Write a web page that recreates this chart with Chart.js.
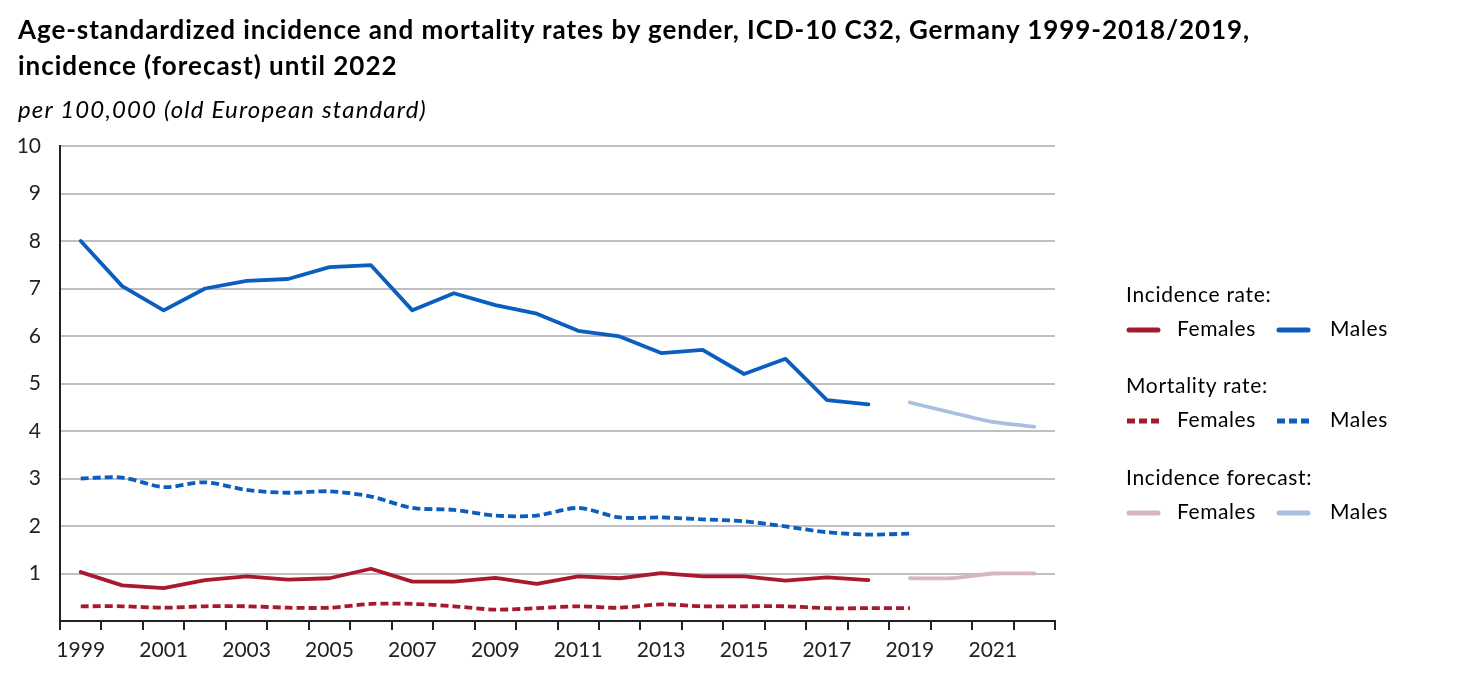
<!DOCTYPE html>
<html>
<head>
<meta charset="utf-8">
<script src="https://cdn.jsdelivr.net/npm/chart.js@4.4.1/dist/chart.umd.min.js"></script>
<style>
  html, body { margin: 0; padding: 0; background: #fff; }
  #wrap { position: relative; width: 1472px; height: 679px; overflow: hidden; font-family: Lato, "Liberation Sans", sans-serif; color: #000; }
  #title { position: absolute; left: 18px; top: 11px; font-weight: bold; font-size: 26px; line-height: 36px; margin: 0; white-space: nowrap; }
  #subtitle { position: absolute; left: 18px; top: 93px; font-style: italic; font-size: 24px; line-height: 32px; white-space: nowrap; }
  #chartBox { position: absolute; left: 0; top: 0; width: 1472px; height: 679px; }
  #legend { position: absolute; left: 1126px; top: 281px; font-size: 21px; }
  .lg-head { position: absolute; left: 0; white-space: nowrap; }
  .lg-item { position: absolute; white-space: nowrap; }
  .lg-item svg { position: absolute; top: 0; }
  .fit { display: inline-block; }
</style>
</head>
<body>
<div id="wrap">
  <div id="chartBox"><canvas id="c" width="1472" height="679"></canvas></div>
  <div id="title"><span class="fit" data-w="1232">Age-standardized incidence and mortality rates by gender, ICD-10 C32, Germany 1999-2018/2019,</span><br><span class="fit" data-w="380">incidence (forecast) until 2022</span></div>
  <div id="subtitle"><span class="fit" data-w="409">per 100,000 (old European standard)</span></div>
  <div id="legend"></div>
</div>
<script>
// ---- data ----
const years = ['1999','2000','2001','2002','2003','2004','2005','2006','2007','2008','2009','2010','2011','2012','2013','2014','2015','2016','2017','2018','2019','2020','2021','2022'];
const incidenceFemales = [1.03,0.75,0.69,0.86,0.94,0.87,0.90,1.10,0.83,0.83,0.91,0.78,0.94,0.90,1.01,0.94,0.94,0.85,0.92,0.86,null,null,null,null];
const incidenceMales   = [8.00,7.05,6.54,7.00,7.16,7.20,7.45,7.49,6.54,6.90,6.65,6.47,6.11,5.99,5.64,5.71,5.20,5.52,4.65,4.56,null,null,null,null];
const mortalityFemales = [0.31,0.31,0.28,0.31,0.31,0.28,0.28,0.36,0.36,0.31,0.24,0.27,0.31,0.28,0.35,0.31,0.31,0.31,0.27,0.27,0.27,null,null,null];
const mortalityMales   = [3.00,3.02,2.82,2.92,2.76,2.70,2.73,2.62,2.38,2.34,2.22,2.22,2.38,2.18,2.18,2.14,2.10,1.99,1.87,1.82,1.84,null,null,null];
const forecastFemales  = [null,null,null,null,null,null,null,null,null,null,null,null,null,null,null,null,null,null,null,null,0.90,0.90,1.00,1.00];
const forecastMales    = [null,null,null,null,null,null,null,null,null,null,null,null,null,null,null,null,null,null,null,null,4.60,4.39,4.19,4.09];
const yTicks = [0,1,2,3,4,5,6,7,8,9,10];
const legendGroups = ['Incidence rate:', 'Mortality rate:', 'Incidence forecast:'];

// ---- styles ----
const RED = '#A8192E', BLUE = '#0B5EC0', RED_F = '#D8B6BD', BLUE_F = '#A9BFDF';
const DASH = [8, 4];

const datasets = [
  { label: 'Females', group: 0, data: incidenceFemales, borderColor: RED, borderWidth: 3.8, tension: 0 },
  { label: 'Males', group: 0, data: incidenceMales, borderColor: BLUE, borderWidth: 3.8, tension: 0 },
  { label: 'Females', group: 1, data: mortalityFemales, borderColor: RED, borderWidth: 3.8, borderDash: DASH, borderCapStyle: 'butt', tension: 0.3 },
  { label: 'Males', group: 1, data: mortalityMales, borderColor: BLUE, borderWidth: 3.8, borderDash: DASH, borderCapStyle: 'butt', tension: 0.3 },
  { label: 'Females', group: 2, data: forecastFemales, borderColor: RED_F, borderWidth: 3.8, tension: 0.2 },
  { label: 'Males', group: 2, data: forecastMales, borderColor: BLUE_F, borderWidth: 3.8, tension: 0.2 }
].map(d => Object.assign({ pointRadius: 0, fill: false, spanGaps: false, borderCapStyle: 'round', borderJoinStyle: 'round' }, d));

const tickFont = { family: 'Lato, "Liberation Sans", sans-serif', size: 21 };

new Chart(document.getElementById('c'), {
  type: 'line',
  data: { labels: years, datasets },
  options: {
    responsive: false,
    animation: false,
    devicePixelRatio: 1,
    layout: { padding: { left: 0, top: 146, right: 417, bottom: 0 } },
    plugins: { legend: { display: false }, tooltip: { enabled: false }, title: { display: false } },
    scales: {
      x: {
        type: 'category',
        offset: true,
        grid: { display: true, drawOnChartArea: false, drawTicks: true, tickLength: 9, offset: true, color: '#222', lineWidth: 2 },
        border: { display: true, color: '#222', width: 2 },
        ticks: {
          autoSkip: false, maxRotation: 0, minRotation: 0, padding: 8,
          color: '#222', font: tickFont,
          callback: function(v, i) { return (i % 2 === 0) ? years[i] : ''; }
        },
        afterFit: s => { s.height = 58; }
      },
      y: {
        min: 0, max: 10,
        afterBuildTicks: s => { s.ticks = yTicks.map(v => ({ value: v })); },
        grid: { color: '#BEBEC3', lineWidth: 2, drawTicks: false },
        border: { display: true, color: '#222', width: 2 },
        ticks: {
          padding: 19, color: '#222', font: tickFont,
          callback: v => (v === 0 ? '' : String(v))
        },
        afterFit: s => { s.width = 60; }
      }
    }
  }
});

// ---- HTML legend built from the datasets ----
const legend = document.getElementById('legend');
const headTops = [0, 91, 183];
const rowOffset = 34;
const itemX = [0, 150];
const textW = { Females: 79, Males: 58 };
legendGroups.forEach((g, gi) => {
  const h = document.createElement('div');
  h.className = 'lg-head';
  h.style.top = headTops[gi] + 'px';
  h.innerHTML = `<span class="fit" data-ls="0.7">${g}</span>`;
  legend.appendChild(h);
  datasets.filter(d => d.group === gi).forEach((d, si) => {
    const it = document.createElement('div');
    it.className = 'lg-item';
    it.style.top = (headTops[gi] + rowOffset) + 'px';
    it.style.left = itemX[si] + 'px';
    const line = d.borderDash
      ? `<line x1="1" y1="15" x2="33" y2="15" stroke="${d.borderColor}" stroke-width="5" stroke-linecap="butt" stroke-dasharray="${d.borderDash[0]} ${d.borderDash[1]}"/>`
      : `<line x1="3" y1="15" x2="32" y2="15" stroke="${d.borderColor}" stroke-width="5" stroke-linecap="round"/>`;
    it.innerHTML = `<svg width="36" height="24" style="left:0">${line}</svg>` +
      `<span class="fit" data-w="${textW[d.label]}" style="position:absolute; left:${si === 0 ? 51 : 54}px; top:0;">${d.label}</span>`;
    legend.appendChild(it);
  });
});

// ---- fit text widths via letter spacing ----
document.querySelectorAll('.fit').forEach(el => {
  const n = el.textContent.length;
  if (el.dataset.w) {
    const natural = el.getBoundingClientRect().width;
    const ls = (parseFloat(el.dataset.w) - natural) / n;
    el.style.letterSpacing = ls.toFixed(2) + 'px';
  } else if (el.dataset.ls) {
    el.style.letterSpacing = el.dataset.ls + 'px';
  }
});
</script>
</body>
</html>
